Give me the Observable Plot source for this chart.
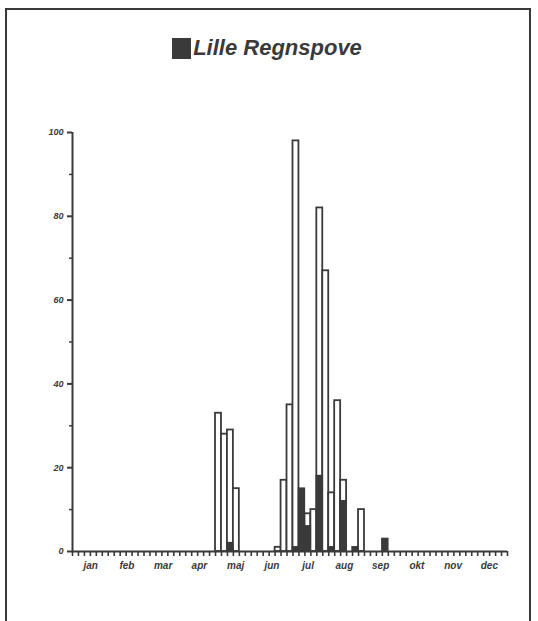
<!DOCTYPE html>
<html>
<head>
<meta charset="utf-8">
<script src="https://cdn.jsdelivr.net/npm/d3@7"></script>
<script src="https://cdn.jsdelivr.net/npm/@observablehq/plot@0.6"></script>
<style>
  html, body { margin: 0; padding: 0; background: #fff; }
  #page { position: relative; width: 538px; height: 621px; overflow: hidden; background: #fff; }
  #frame { position: absolute; left: 5px; top: 8px; width: 526px; height: 640px; border: 2px solid #3a3a3a; box-sizing: border-box; }
  #title { position: absolute; left: 0; width: 538px; top: 35px; display: flex; justify-content: center; align-items: center; gap: 2px;
           font-family: "Liberation Sans", Arial, sans-serif; font-weight: bold; font-style: italic; font-size: 22px; color: #3a3a3a; }
  #title .sw { display: inline-block; width: 19px; height: 21px; background: #3a3a3a; margin-left: -4px; }
  #chart { position: absolute; left: 0; top: 100px; }
</style>
</head>
<body>
<div id="page">
  <div id="frame"></div>
  <div id="title"><span class="sw"></span><span>Lille Regnspove</span></div>
  <div id="chart"></div>
</div>
<script>
// 5-day periods (pentads) of the year, index 0..72
const months = ["jan","feb","mar","apr","maj","jun","jul","aug","sep","okt","nov","dec"];
const pentads = [24, 25, 26, 27, 34, 35, 36, 37, 38, 39, 40, 41, 42, 43, 44, 45, 47, 48, 52];
const whiteVals = [33, 28, 29, 15, 1, 17, 35, 98, 0, 9, 10, 82, 67, 14, 36, 17, 0, 10, 0];
const darkVals  = [0, 0, 2, 0, 0, 0, 0, 1, 15, 6, 0, 18, 0, 1, 0, 12, 1, 0, 3];
const yTicks = [0, 20, 40, 60, 80, 100];
const yMinor = [10, 30, 50, 70, 90];

const nP = 73;
const rows = pentads.map((p, i) => ({p, w: whiteVals[i], d: darkVals[i]}));
const monthCenters = months.map((m, i) => (i + 0.5) * nP / 12);
const pentadTicks = d3.range(0, nP + 1);

const ink = "#3a3a3a";
const fontFam = "'Liberation Sans', Arial, sans-serif";

const chart = Plot.plot({
  width: 538,
  height: 521,
  marginLeft: 72,
  marginRight: 31,
  marginTop: 32,
  marginBottom: 70,
  style: {fontFamily: fontFam, color: ink, background: "transparent"},
  x: {domain: [0, nP], axis: null, label: null},
  y: {domain: [0, 100], axis: null, label: null},
  marks: [
    Plot.rectY(rows.filter(r => r.w > 0), {x1: "p", x2: r => r.p + 1, y: "w", fill: "white", stroke: ink, strokeWidth: 1.8}),
    Plot.rectY(rows.filter(r => r.d > 0), {x1: "p", x2: r => r.p + 1, y: "d", fill: ink, stroke: ink, strokeWidth: 1.5}),
    Plot.axisX({ticks: pentadTicks, tickFormat: () => "", tickSize: 5, stroke: ink, strokeWidth: 1.6, label: null}),
    Plot.axisX({ticks: monthCenters, tickFormat: d => months[Math.floor(d * 12 / nP)], tickSize: 0, tickPadding: 10,
                fontSize: 10, fontWeight: "bold", fontStyle: "italic", fill: ink, label: null}),
    Plot.axisY({ticks: yTicks, tickSize: 5, tickPadding: 4, fontSize: 9, fontWeight: "bold", fontStyle: "italic",
                stroke: ink, strokeWidth: 2, fill: ink, label: null}),
    Plot.axisY({ticks: yMinor, tickSize: 3, tickFormat: () => "", stroke: ink, strokeWidth: 1.5, label: null}),
    Plot.ruleY([0], {stroke: ink, strokeWidth: 2}),
    Plot.ruleX([0], {y1: 0, y2: 100, stroke: ink, strokeWidth: 2})
  ]
});
document.getElementById("chart").appendChild(chart);
</script>
</body>
</html>
